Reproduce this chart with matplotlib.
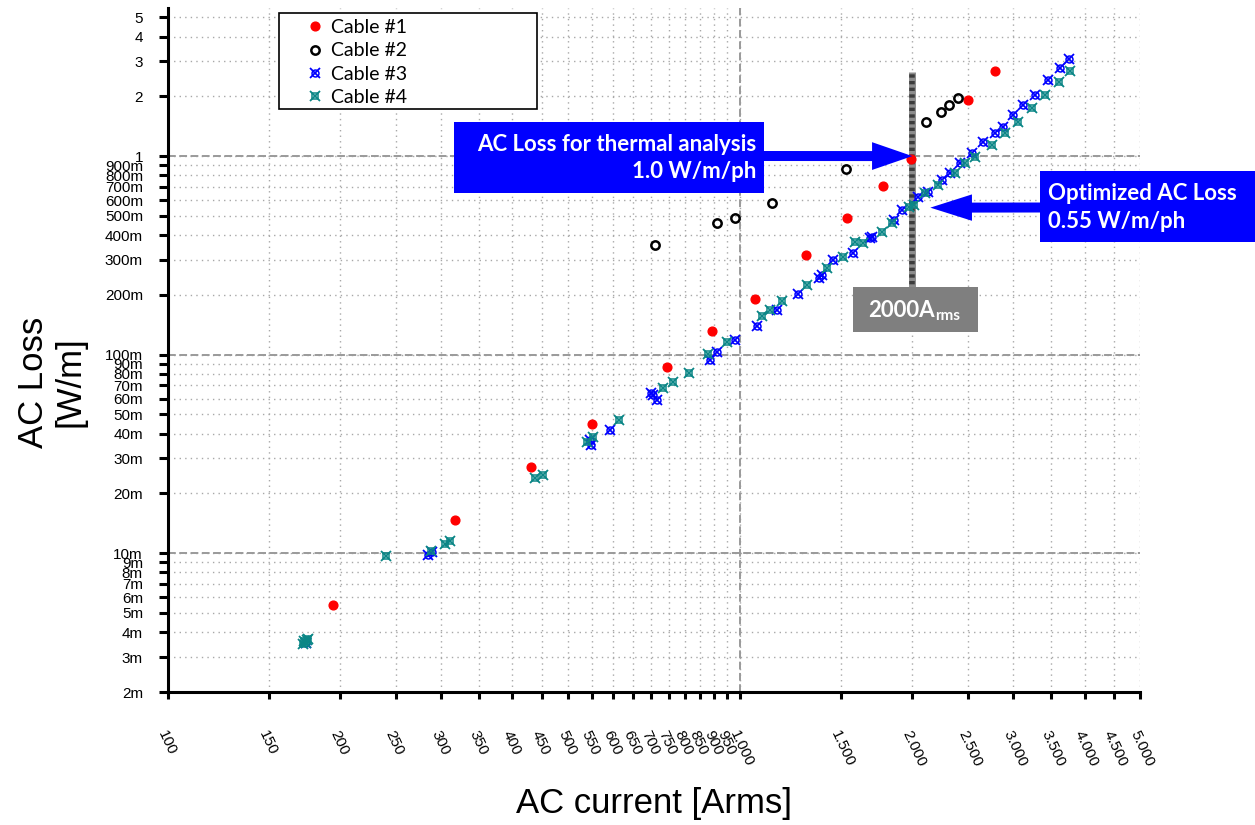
import numpy as np
import matplotlib.pyplot as plt
from matplotlib.patches import Rectangle
from matplotlib.lines import Line2D
from matplotlib.ticker import NullFormatter

plt.rcParams['font.family'] = ['Liberation Sans', 'DejaVu Sans']

# AC current [Arms] and AC loss [mW/m]
cable1_i = [194, 318, 431, 550, 746, 894, 1062, 1305, 1538, 1776, 1990, 2507, 2795]
cable1_p = [5.47, 14.7, 27.1, 44.8, 86.5, 131, 190, 319, 485, 711, 970, 1915, 2690]

cable2_i = [711, 912, 979, 1136, 1530, 2115, 2246, 2322, 2408]
cable2_p = [356, 458, 489, 578, 857, 1489, 1672, 1800, 1952]

cable3_i = [174, 285, 289, 546, 548, 593, 700, 705, 715, 887,
            910, 980, 1070, 1162, 1264, 1371, 1388, 1456, 1578, 1688,
            1700, 1856, 1917, 2050, 2134, 2252, 2329, 2425, 2542, 2663,
            2791, 2886, 3005, 3128, 3279, 3459, 3627, 3750]
cable3_p = [3.55, 9.8, 10.1, 37, 35, 41.7, 64, 62.5, 59, 93.8,
            103, 118, 140, 167.6, 203, 242, 251, 299, 323.5, 385,
            392, 476, 535, 624, 661, 757, 818, 919, 1032, 1180,
            1301, 1405, 1609, 1807, 2029, 2415, 2766, 3080]

cable4_i = [172, 173, 174, 175, 176, 240, 288, 305, 311, 438,
            452, 541, 553, 615, 734, 764, 815, 880, 948, 1091,
            1128, 1183, 1308, 1418, 1516, 1590, 1643, 1769, 1842, 1975,
            2015, 2106, 2222, 2376, 2475, 2576, 2754, 2906, 3065, 3236,
            3413, 3603, 3776]
cable4_p = [3.5, 3.6, 3.55, 3.65, 3.7, 9.7, 10.3, 11.1, 11.5, 23.9,
            24.7, 36.4, 38.3, 47.1, 67.6, 73, 80.4, 100.6, 116, 157,
            167.6, 186, 224, 272, 309, 370, 363, 415.5, 458, 555,
            566, 651, 714, 818, 919, 992, 1136, 1301, 1489, 1739,
            2029, 2367, 2680]

labels = ['Cable #1', 'Cable #2', 'Cable #3', 'Cable #4']

x_ticks = list(range(100, 1000, 50)) + list(range(1000, 5001, 500))
y_ticks = [v * 1e-3 for v in range(2, 10)] + [v * 1e-2 for v in range(1, 10)] \
    + [v * 1e-1 for v in range(1, 10)] + [1, 2, 3, 4, 5]

BLUE = '#0000ff'
TEAL = '#0b8686'

W, H = 1255, 825


def fpx(x, y):
    # pixel position in the 1255x825 frame -> figure fraction
    return (x / W, 1 - y / H)


fig = plt.figure(figsize=(W / 100, H / 100), dpi=100)
ax = fig.add_axes([168 / W, 1 - 692 / H, (1140 - 168) / W, (692 - 8) / H])
ax.set_xscale('log')
ax.set_yscale('log')
ax.set_xlim(100, 5000)
ax.set_ylim(0.002, 5.57)

mw = 1e-3
ax.plot(cable1_i, np.array(cable1_p) * mw, ls='none', marker='o', ms=6.3,
        color='red', zorder=3)
ax.plot(cable2_i, np.array(cable2_p) * mw, ls='none', marker='o', ms=6,
        mfc='none', mec='black', mew=1.8, zorder=3)
ax.plot(cable3_i, np.array(cable3_p) * mw, ls='none', marker='x', ms=7,
        mew=1.3, color=BLUE, zorder=3)
ax.plot(cable3_i, np.array(cable3_p) * mw, ls='none', marker='o', ms=5,
        mfc='none', mec=BLUE, mew=1.1, zorder=3)
ax.plot(cable4_i, np.array(cable4_p) * mw, ls='none', marker='x', ms=7,
        mew=1.3, color=TEAL, zorder=3)
ax.plot(cable4_i, np.array(cable4_p) * mw, ls='none', marker='s', ms=5,
        mfc='none', mec=TEAL, mew=1.1, zorder=3)

# ticks
x_labels = [f"{v:,}".replace(',', '.') for v in x_ticks]
y_labels = [f"{round(v * 1000)}m" if v < 1 else f"{v:g}" for v in y_ticks]
ax.set_xticks(x_ticks, x_labels, rotation=-65, ha='left', va='top',
              rotation_mode='anchor')
ax.set_xticks([100, 1000], minor=True)
ax.xaxis.set_minor_formatter(NullFormatter())
ax.set_yticks(y_ticks, y_labels)
ax.set_yticks([0.01, 0.1, 1], minor=True)
ax.yaxis.set_minor_formatter(NullFormatter())
ax.tick_params(axis='x', which='major', length=5, width=2.2, pad=21, labelsize=11)
ax.tick_params(axis='x', which='minor', length=11, width=2.2)
ax.tick_params(axis='y', which='major', length=6.5, width=2.2, pad=11.5, labelsize=11)
ax.tick_params(axis='y', which='minor', length=11.5, width=2.2)

for s in ['top', 'right']:
    ax.spines[s].set_visible(False)
for s in ['left', 'bottom']:
    ax.spines[s].set_linewidth(2.2)

ax.set_axisbelow(True)
ax.grid(True, which='major', ls=(0, (1, 3)), color='#a8a8a8', lw=1)
for v in [0.01, 0.1, 1]:
    ax.axhline(v, color='#9a9a9a', ls=(0, (4, 1.8)), lw=1.4, zorder=1)
ax.axvline(1000, color='#9a9a9a', ls=(0, (4, 1.8)), lw=1.4, zorder=1)

# 2000 Arms marker bar
ax.vlines(2000, 0.21, 2.65, colors='#8c8c8c', lw=5, zorder=1.5)
ax.vlines(2000, 0.21, 2.65, colors='#3c3c3c', lw=4, ls=(0, (0.6, 0.6)), zorder=1.6)

# legend
ax.add_patch(Rectangle(fpx(279, 109), (537 - 279) / W, (109 - 13) / H,
                       transform=fig.transFigure, fc='white', ec='black',
                       lw=1.2, zorder=4, clip_on=False))
h1 = Line2D([], [], ls='none', marker='o', ms=6.3, color='red')
h2 = Line2D([], [], ls='none', marker='o', ms=6, mfc='none', mec='black', mew=1.8)
h3 = (Line2D([], [], ls='none', marker='x', ms=7, mew=1.3, color=BLUE),
      Line2D([], [], ls='none', marker='o', ms=5, mfc='none', mec=BLUE, mew=1.1))
h4 = (Line2D([], [], ls='none', marker='x', ms=7, mew=1.3, color=TEAL),
      Line2D([], [], ls='none', marker='s', ms=5, mfc='none', mec=TEAL, mew=1.1))
leg = ax.legend([h1, h2, h3, h4], labels, loc='upper left',
                bbox_to_anchor=fpx(303, 19), bbox_transform=fig.transFigure,
                frameon=False, prop={'family': 'Lato', 'size': 14},
                handlelength=1.2, handletextpad=0.25, labelspacing=0.33,
                borderpad=0, borderaxespad=0)
leg.set_zorder(5)

# annotation boxes
bold = dict(family='Lato', weight='bold', color='white', transform=fig.transFigure)
ax.add_patch(Rectangle(fpx(454, 193), (764 - 454) / W, (193 - 122) / H,
                       transform=fig.transFigure, fc=BLUE, ec='none',
                       zorder=6, clip_on=False))
ax.text(*fpx(756, 151), 'AC Loss for thermal analysis', ha='right', va='baseline',
        fontsize=16, zorder=7, **bold)
ax.text(*fpx(756, 178), '1.0 W/m/ph', ha='right', va='baseline',
        fontsize=16, zorder=7, **bold)
ax.annotate('', xy=(2000, 1.0), xycoords='data', xytext=fpx(762, 156),
            textcoords='figure fraction', zorder=6,
            arrowprops=dict(arrowstyle='simple,head_length=29,head_width=20,tail_width=7.2',
                            fc=BLUE, ec='none', mutation_scale=1, shrinkA=0, shrinkB=0))

ax.add_patch(Rectangle(fpx(1040, 242), (1255 - 1040) / W, (242 - 171) / H,
                       transform=fig.transFigure, fc=BLUE, ec='none',
                       zorder=6, clip_on=False))
ax.text(*fpx(1048, 200), 'Optimized AC Loss', ha='left', va='baseline',
        fontsize=16, zorder=7, **bold)
ax.text(*fpx(1048, 228), '0.55 W/m/ph', ha='left', va='baseline',
        fontsize=16, zorder=7, **bold)
ax.annotate('', xy=(2150, 0.55), xycoords='data', xytext=fpx(1042, 207.5),
            textcoords='figure fraction', zorder=6,
            arrowprops=dict(arrowstyle='simple,head_length=30,head_width=19,tail_width=7.2',
                            fc=BLUE, ec='none', mutation_scale=1, shrinkA=0, shrinkB=0))

ax.add_patch(Rectangle(fpx(853, 332), (978 - 853) / W, (332 - 287) / H,
                       transform=fig.transFigure, fc='#7f7f7f', ec='none',
                       zorder=6, clip_on=False))
ax.text(*fpx(935, 317), '2000A', ha='right', va='baseline', fontsize=16, zorder=7, **bold)
ax.text(*fpx(935, 320), 'rms', ha='left', va='baseline', fontsize=11, zorder=7, **bold)

# axis titles
fig.text(*fpx(52, 382), 'AC Loss\n[W/m]', rotation=90, ha='center', va='center',
         fontsize=25, linespacing=1.15)
fig.text(*fpx(654, 803), 'AC current [Arms]', ha='center', va='center', fontsize=25)

fig.savefig('out.png', dpi=100)
